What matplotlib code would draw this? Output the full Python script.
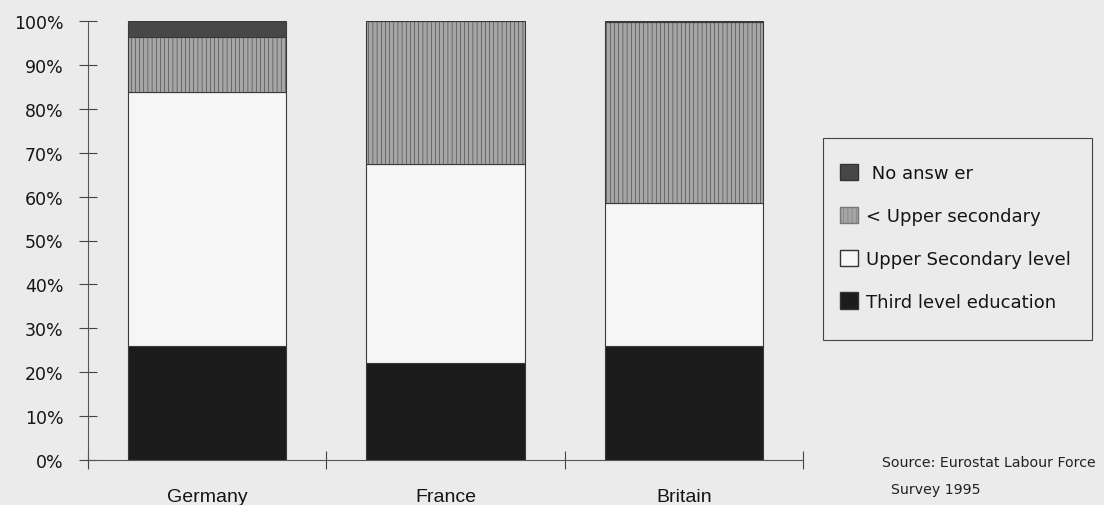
import numpy as np
import matplotlib
matplotlib.use("Agg")
import matplotlib.pyplot as plt
from matplotlib.patches import Patch, Rectangle

plt.rcParams['font.family'] = ['DejaVu Sans']

# data (percent shares)
countries = ['Germany', 'France', 'Britain']
third_level = [25.9, 22.1, 25.9]
upper_secondary = [57.9, 45.4, 32.6]
below_upper = [12.6, 32.5, 41.2]
no_answer = [3.6, 0.0, 0.3]

series = [
    ('Third level education', third_level, '#1c1c1c', None),
    ('Upper Secondary level', upper_secondary, '#f6f6f6', None),
    ('< Upper secondary', below_upper, '#a6a6a6', '||||'),
    ('No answer', no_answer, '#474747', None),
]

bg = '#ebebeb'
W, H = 1104, 506
fig = plt.figure(figsize=(11.04, 5.06), dpi=100, facecolor=bg)
ax = fig.add_axes([88 / W, 1 - 461 / H, (803 - 88) / W, (461 - 22) / H])
ax.set_facecolor(bg)

plt.rcParams['hatch.color'] = '#929292'
plt.rcParams['hatch.linewidth'] = 0.4

x = np.arange(len(countries))
bottom = np.zeros(len(countries))
for name, vals, col, hatch in series:
    ax.bar(x, vals, width=0.665, bottom=bottom, color=col, edgecolor='#3a3a3a',
           linewidth=0.8, hatch=hatch)
    bottom += np.array(vals)

ax.set_xlim(-0.5, len(countries) - 0.5)
ax.set_ylim(0, 100)
ax.set_yticks(np.arange(0, 101, 10))
ax.set_yticklabels([f'{v}%' for v in range(0, 101, 10)], fontsize=12.5)
ax.tick_params(axis='y', direction='inout', length=13, width=0.8, pad=11,
               color='#444444', labelcolor='#151515')

# category boundaries carry the ticks, names sit at the bar centres
ax.set_xticks(np.arange(-0.5, len(countries), 1.0))
ax.set_xticklabels([])
ax.set_xticks(x, minor=True)
ax.set_xticklabels(countries, minor=True, fontsize=14, family=['Liberation Sans'])
ax.tick_params(axis='x', which='major', direction='inout', length=13, width=0.8, color='#444444')
ax.tick_params(axis='x', which='minor', length=0, pad=20, labelcolor='#151515')

for s in ['top', 'right']:
    ax.spines[s].set_visible(False)
for s in ['left', 'bottom']:
    ax.spines[s].set_color('#555555')
    ax.spines[s].set_linewidth(0.8)

# legend box drawn separately so its padding can match the original
fig.patches.append(Rectangle((823 / W, 1 - 341 / H), (1092 - 823) / W, (341 - 139) / H,
                             transform=fig.transFigure, facecolor=bg, edgecolor='#444444',
                             linewidth=0.8, zorder=1))

handles = [
    Patch(facecolor='#474747', edgecolor='#333333', label=' No answ er'),
    Patch(facecolor='#a6a6a6', edgecolor='#777777', hatch='||||', label='< Upper secondary'),
    Patch(facecolor='#f6f6f6', edgecolor='#333333', label='Upper Secondary level'),
    Patch(facecolor='#1c1c1c', edgecolor='#333333', label='Third level education'),
]
leg = fig.legend(handles=handles, loc='upper left', bbox_to_anchor=(840 / W, 1 - 165 / H),
                 fontsize=13, frameon=False, handlelength=1.0, handleheight=1.0,
                 handletextpad=0.45, labelspacing=1.36, borderpad=0, borderaxespad=0)
leg.set_zorder(2)
for t in leg.get_texts():
    t.set_color('#151515')

fig.text(882 / W, 1 - 463 / H, 'Source: Eurostat Labour Force', fontsize=10.2, color='#222222', va='center')
fig.text(891 / W, 1 - 490 / H, 'Survey 1995', fontsize=10.2, color='#222222', va='center')

fig.savefig('out.png', dpi=100, facecolor=bg)
